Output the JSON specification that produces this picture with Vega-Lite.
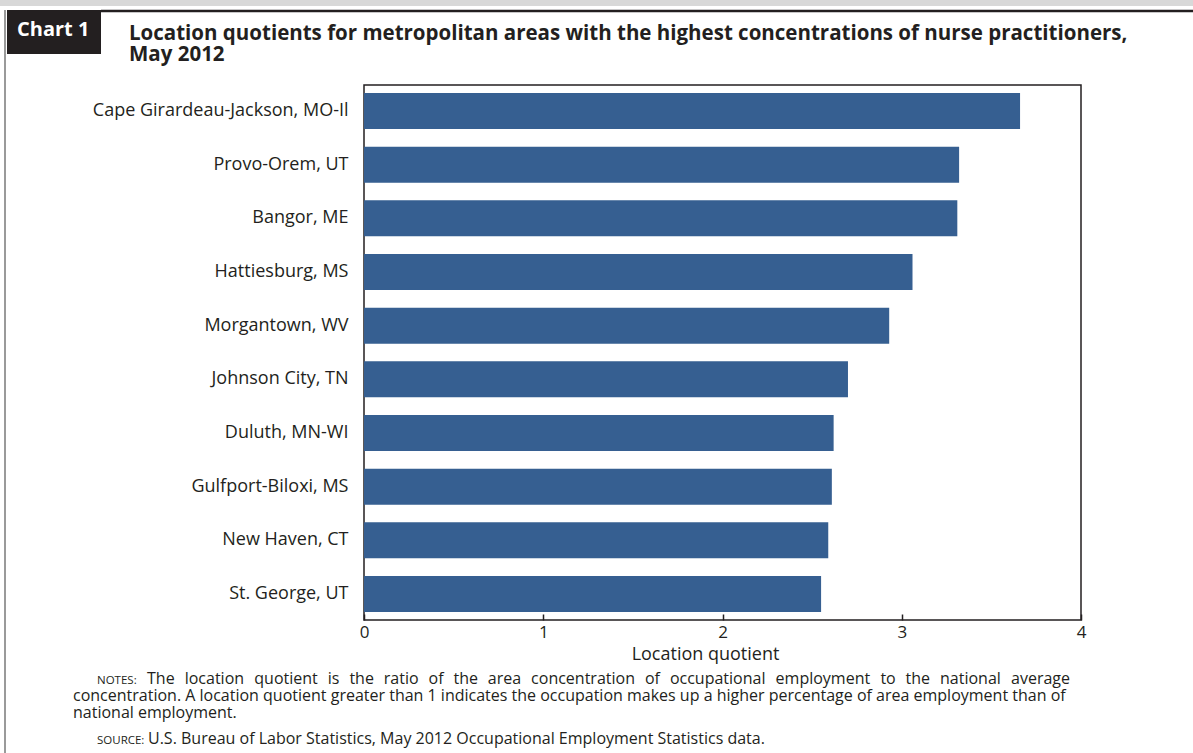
{
  "$schema": "https://vega.github.io/schema/vega-lite/v6.json",
  "autosize": "none",
  "width": 717,
  "height": 535,
  "padding": {"left": 364, "top": 85, "right": 112, "bottom": 133},
  "background": "white",
  "config": {
    "font": "Open Sans",
    "view": {"stroke": "#231f20", "strokeWidth": 1.5},
    "text": {"color": "#231f20", "fontSize": 16, "align": "left", "baseline": "alphabetic"}
  },
  "layer": [
    {
      "data": {
        "values": [
          {"area": "Cape Girardeau-Jackson, MO-Il", "lq": 3.66},
          {"area": "Provo-Orem, UT", "lq": 3.32},
          {"area": "Bangor, ME", "lq": 3.31},
          {"area": "Hattiesburg, MS", "lq": 3.06},
          {"area": "Morgantown, WV", "lq": 2.93},
          {"area": "Johnson City, TN", "lq": 2.70},
          {"area": "Duluth, MN-WI", "lq": 2.62},
          {"area": "Gulfport-Biloxi, MS", "lq": 2.61},
          {"area": "New Haven, CT", "lq": 2.59},
          {"area": "St. George, UT", "lq": 2.55}
        ]
      },
      "mark": {"type": "bar", "color": "#365f91"},
      "encoding": {
        "y": {
          "field": "area",
          "type": "nominal",
          "sort": null,
          "scale": {"paddingInner": 0.33, "paddingOuter": 0.15},
          "axis": {
            "title": null,
            "domain": false,
            "ticks": false,
            "labelPadding": 16,
            "labelFontSize": 18,
            "labelColor": "#231f20",
            "labelLimit": 400
          }
        },
        "x": {
          "field": "lq",
          "type": "quantitative",
          "scale": {"domain": [0, 4], "nice": false},
          "axis": {
            "title": "Location quotient",
            "titleFontSize": 18,
            "titleFontWeight": "normal",
            "titleColor": "#231f20",
            "titleX": 341,
            "titleAlign": "center",
            "titlePadding": 5,
            "values": [0, 1, 2, 3, 4],
            "format": "d",
            "grid": false,
            "domain": false,
            "tickSize": -6,
            "tickColor": "#231f20",
            "tickWidth": 1.5,
            "labelPadding": 10,
            "labelFontSize": 17,
            "labelColor": "#231f20",
            "labelFlush": false
          }
        }
      }
    },
    {
      "data": {"values": [{}]},
      "mark": {"type": "rect", "color": "#231f20"},
      "encoding": {"x": {"value": -357}, "x2": {"value": -263}, "y": {"value": -75}, "y2": {"value": -31}}
    },
    {
      "data": {"values": [{}]},
      "mark": {"type": "rule", "color": "#231f20", "strokeWidth": 2.5},
      "encoding": {"x": {"value": -263}, "x2": {"value": 829}, "y": {"value": -74}}
    },
    {
      "data": {"values": [{}]},
      "mark": {"type": "rule", "color": "#9a9a9a", "strokeWidth": 2},
      "encoding": {"x": {"value": -359}, "y": {"value": -75}, "y2": {"value": 668}}
    },
    {
      "data": {"values": [{}]},
      "mark": {"type": "rule", "color": "#d8d8d8", "strokeWidth": 6},
      "encoding": {"x": {"value": -364}, "x2": {"value": 829}, "y": {"value": -82}}
    },
    {
      "data": {"values": [{"t": "Chart 1"}]},
      "mark": {"type": "text", "color": "white", "fontSize": 20, "fontWeight": "bold"},
      "encoding": {"text": {"field": "t"}, "x": {"value": -347}, "y": {"value": -49}}
    },
    {
      "data": {"values": [{"t": ["Location quotients for metropolitan areas with the highest concentrations of nurse practitioners,", "May 2012"]}]},
      "mark": {"type": "text", "fontSize": 20.5, "fontWeight": "bold", "lineHeight": 21},
      "encoding": {"text": {"field": "t"}, "x": {"value": -235}, "y": {"value": -45}}
    },
    {
      "data": {"values": [{"t": "NOTES:"}]},
      "mark": {"type": "text", "fontSize": 11.5},
      "encoding": {"text": {"field": "t"}, "x": {"value": -267}, "y": {"value": 599}}
    },
    {
      "data": {"values": [{"t": "SOURCE:"}]},
      "mark": {"type": "text", "fontSize": 11.5},
      "encoding": {"text": {"field": "t"}, "x": {"value": -267}, "y": {"value": 659}}
    },
    {"data": {"values": [{"t": "The"}]}, "mark": {"type": "text"}, "encoding": {"text": {"field": "t"}, "x": {"value": -217}, "y": {"value": 599}}},
    {"data": {"values": [{"t": "location"}]}, "mark": {"type": "text"}, "encoding": {"text": {"field": "t"}, "x": {"value": -179.3}, "y": {"value": 599}}},
    {"data": {"values": [{"t": "quotient"}]}, "mark": {"type": "text"}, "encoding": {"text": {"field": "t"}, "x": {"value": -109.7}, "y": {"value": 599}}},
    {"data": {"values": [{"t": "is"}]}, "mark": {"type": "text"}, "encoding": {"text": {"field": "t"}, "x": {"value": -36.3}, "y": {"value": 599}}},
    {"data": {"values": [{"t": "the"}]}, "mark": {"type": "text"}, "encoding": {"text": {"field": "t"}, "x": {"value": -14.6}, "y": {"value": 599}}},
    {"data": {"values": [{"t": "ratio"}]}, "mark": {"type": "text"}, "encoding": {"text": {"field": "t"}, "x": {"value": 19.8}, "y": {"value": 599}}},
    {"data": {"values": [{"t": "of"}]}, "mark": {"type": "text"}, "encoding": {"text": {"field": "t"}, "x": {"value": 64.5}, "y": {"value": 599}}},
    {"data": {"values": [{"t": "the"}]}, "mark": {"type": "text"}, "encoding": {"text": {"field": "t"}, "x": {"value": 89.5}, "y": {"value": 599}}},
    {"data": {"values": [{"t": "area"}]}, "mark": {"type": "text"}, "encoding": {"text": {"field": "t"}, "x": {"value": 123.8}, "y": {"value": 599}}},
    {"data": {"values": [{"t": "concentration"}]}, "mark": {"type": "text"}, "encoding": {"text": {"field": "t"}, "x": {"value": 167.1}, "y": {"value": 599}}},
    {"data": {"values": [{"t": "of"}]}, "mark": {"type": "text"}, "encoding": {"text": {"field": "t"}, "x": {"value": 280.9}, "y": {"value": 599}}},
    {"data": {"values": [{"t": "occupational"}]}, "mark": {"type": "text"}, "encoding": {"text": {"field": "t"}, "x": {"value": 305.9}, "y": {"value": 599}}},
    {"data": {"values": [{"t": "employment"}]}, "mark": {"type": "text"}, "encoding": {"text": {"field": "t"}, "x": {"value": 411.6}, "y": {"value": 599}}},
    {"data": {"values": [{"t": "to"}]}, "mark": {"type": "text"}, "encoding": {"text": {"field": "t"}, "x": {"value": 516.4}, "y": {"value": 599}}},
    {"data": {"values": [{"t": "the"}]}, "mark": {"type": "text"}, "encoding": {"text": {"field": "t"}, "x": {"value": 541.6}, "y": {"value": 599}}},
    {"data": {"values": [{"t": "national"}]}, "mark": {"type": "text"}, "encoding": {"text": {"field": "t"}, "x": {"value": 576.0}, "y": {"value": 599}}},
    {"data": {"values": [{"t": "average"}]}, "mark": {"type": "text", "align": "right"}, "encoding": {"text": {"field": "t"}, "x": {"value": 706}, "y": {"value": 599}}},
    {
      "data": {"values": [{"t": ["concentration. A location quotient greater than 1 indicates the occupation makes up a higher percentage of area employment than of", "national employment."]}]},
      "mark": {"type": "text", "lineHeight": 17},
      "encoding": {"text": {"field": "t"}, "x": {"value": -291}, "y": {"value": 616}}
    },
    {
      "data": {"values": [{"t": "U.S. Bureau of Labor Statistics, May 2012 Occupational Employment Statistics data."}]},
      "mark": {"type": "text"},
      "encoding": {"text": {"field": "t"}, "x": {"value": -216}, "y": {"value": 659}}
    }
  ]
}
